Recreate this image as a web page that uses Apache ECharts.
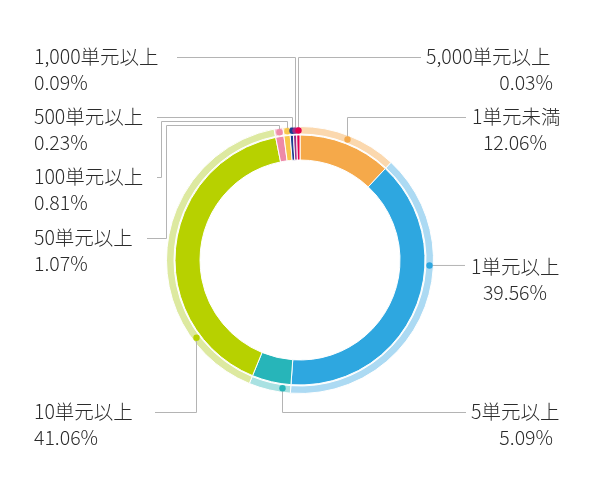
<!DOCTYPE html>
<html>
<head>
<meta charset="utf-8">
<script src="https://cdn.jsdelivr.net/npm/echarts@6/dist/echarts.min.js"></script>
<style>
html,body{margin:0;padding:0;background:#fff;}
#main{width:600px;height:500px;}
</style>
</head>
<body>
<div id="main"></div>
<script>
// ---- data ----
const categories = ['1単元未満', '1単元以上', '5単元以上', '10単元以上', '50単元以上', '100単元以上', '500単元以上', '1,000単元以上', '5,000単元以上'];
const shares = [12.06, 39.56, 5.09, 41.06, 1.07, 0.81, 0.23, 0.09, 0.03];
const percentLabels = ['12.06%', '39.56%', '5.09%', '41.06%', '1.07%', '0.81%', '0.23%', '0.09%', '0.03%'];
const colors = ['#f5a94a', '#2ea7e0', '#27b5b9', '#b7d100', '#ee8aa8', '#f8c84a', '#1d3f8f', '#9b2f86', '#e5004f'];
const lightColors = ['#fbd8ae', '#acdaf3', '#a9e1e2', '#dde9a0', '#f7c6d5', '#fce6a8', '#9fb0d6', '#d6a9cf', '#f5a3bd'];

const CX = 300, CY = 260;
const chart = echarts.init(document.getElementById('main'), null, {renderer: 'canvas'});

function pieSeries(radius, cols) {
  return {
    type: 'pie',
    center: [CX, CY],
    radius: radius,
    startAngle: 90,
    clockwise: true,
    minAngle: 1.5,
    avoidLabelOverlap: false,
    silent: true,
    label: {show: false},
    labelLine: {show: false},
    itemStyle: {borderColor: '#ffffff', borderWidth: 1},
    data: categories.map((c, i) => ({name: c, value: shares[i], itemStyle: {color: cols[i]}}))
  };
}

chart.setOption({
  animation: false,
  backgroundColor: '#ffffff',
  series: [pieSeries([100, 125], colors), pieSeries([126, 133.5], lightColors)]
});

// label layout (annotation positions)
// t: position of the marker within its slice (0..1); route: bend points after the marker
const layout = [
  {t: 0.5,  route: (p) => [[p[0], 117.5], [466, 117.5]], name: [472, 117, 'left'], pct: [547, 143, 'right']},
  {t: 0.35, route: (p) => [[465, p[1]]], name: [471, 267, 'left'], pct: [547, 293, 'right']},
  {t: 0.2,  route: (p) => [[p[0], 412.5], [466, 412.5]], name: [471, 412, 'left'], pct: [553, 438, 'right']},
  {t: 0.21, route: (p) => [[p[0], 412.5], [155, 412.5]], name: [34, 412, 'left'], pct: [34, 438, 'left']},
  {t: 0.5,  route: (p) => [[p[0], 125.5], [166.5, 125.5], [166.5, 238.5], [147, 238.5]], name: [34, 238, 'left'], pct: [34, 264, 'left']},
  {t: 0.5,  route: (p) => [[p[0], 121.5], [161.5, 121.5], [161.5, 177.5], [157, 177.5]], name: [34, 177, 'left'], pct: [34, 203, 'left']},
  {t: 0.5,  route: (p) => [[p[0], 117.5], [157, 117.5]], name: [34, 117, 'left'], pct: [34, 143, 'left']},
  {t: 0.5,  route: (p) => [[p[0], 57.5], [177, 57.5]], name: [34, 57, 'left'], pct: [34, 83, 'left']},
  {t: 0.5,  route: (p) => [[p[0], 57.5], [421, 57.5]], name: [426, 57, 'left'], pct: [553, 83, 'right']}
];

const data = chart.getModel().getSeriesByIndex(1).getData();
const graphics = [];
const font = '300 19.5px "Noto Sans CJK JP", "Noto Sans", sans-serif';
const DOT_R = 129.5;
categories.forEach((c, i) => {
  const lay = data.getItemLayout(i);
  const a = lay.startAngle + layout[i].t * (lay.endAngle - lay.startAngle);
  const px = Math.round(lay.cx + DOT_R * Math.cos(a)) + 0.5;
  const py = lay.cy + DOT_R * Math.sin(a);
  const p = [px, py];
  const pts = [p].concat(layout[i].route(p));
  graphics.push({
    type: 'polyline', silent: true, z: 10,
    shape: {points: pts},
    style: {stroke: '#b4b4b4', lineWidth: 1, fill: null}
  });
  graphics.push({
    type: 'circle', silent: true, z: 11,
    shape: {cx: px, cy: py, r: 3.2},
    style: {fill: colors[i]}
  });
  const L = layout[i];
  graphics.push({
    type: 'text', silent: true, z: 12, x: L.name[0], y: L.name[1],
    style: {text: c, font: font, fill: '#2b2b2b', align: L.name[2], verticalAlign: 'middle'}
  });
  graphics.push({
    type: 'text', silent: true, z: 12, x: L.pct[0], y: L.pct[1],
    style: {text: percentLabels[i], font: font, fill: '#2b2b2b', align: L.pct[2], verticalAlign: 'middle'}
  });
});
chart.setOption({graphic: graphics});
</script>
</body>
</html>
